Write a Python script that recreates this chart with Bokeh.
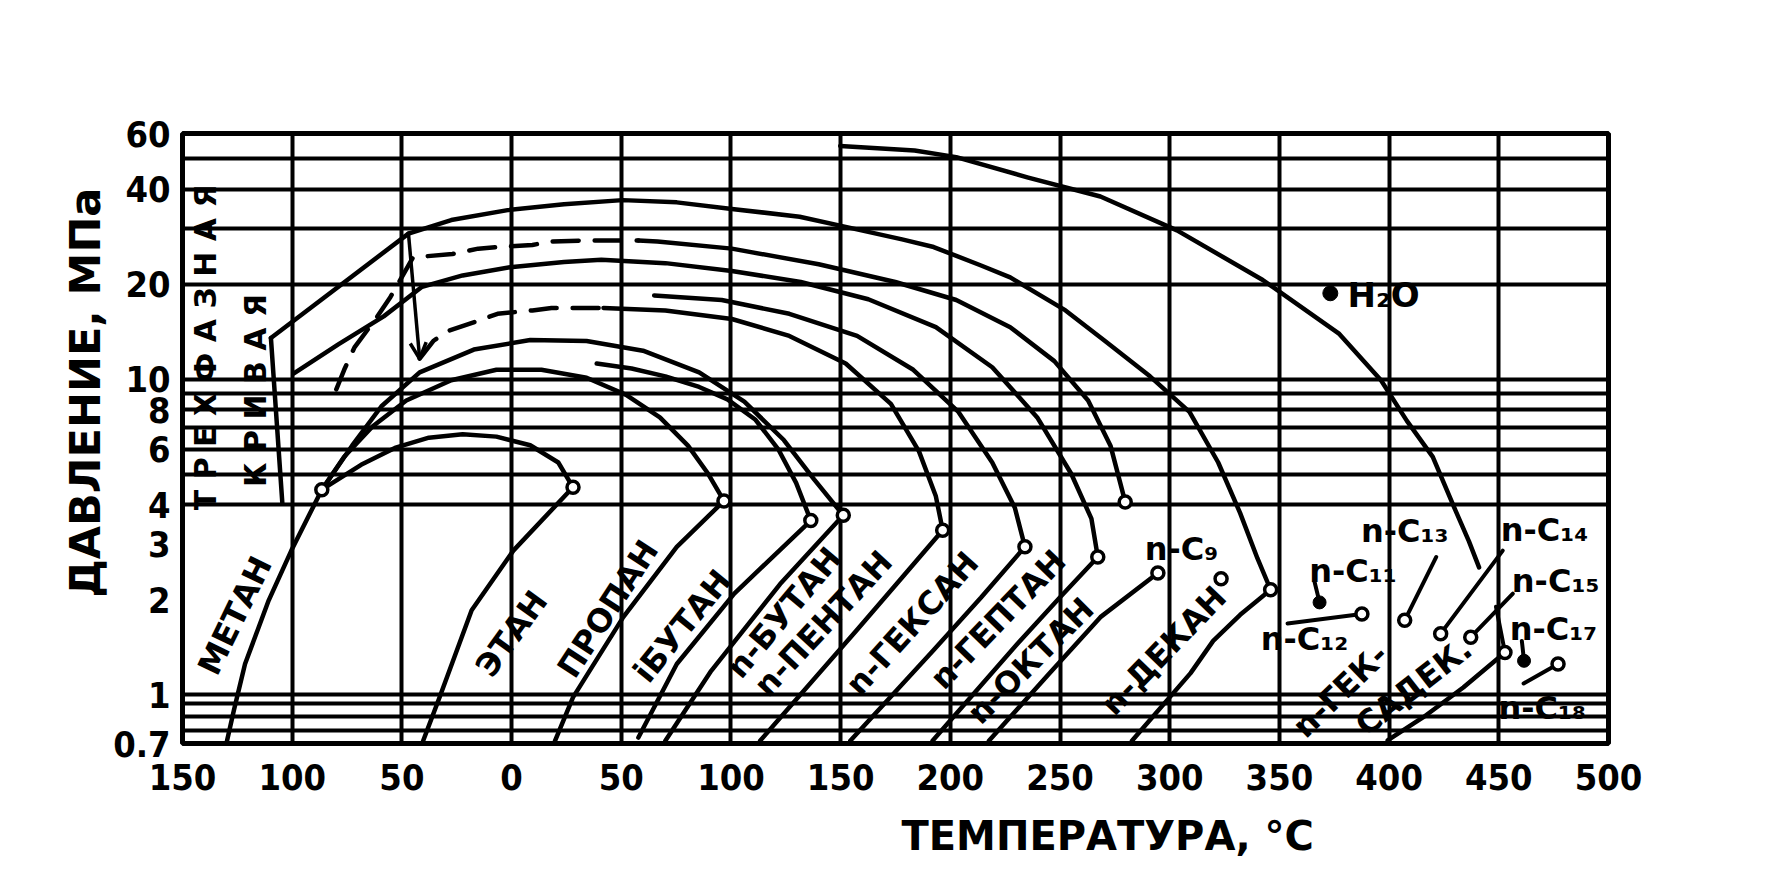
from bokeh.plotting import figure
from bokeh.models import Range1d, FixedTicker, Arrow, OpenHead, Title
from bokeh.core.properties import value
from bokeh.embed import file_html
from bokeh.resources import INLINE

# ---------------- data (temperature °C, pressure MPa) ----------------
X_TICKS = [-150, -100, -50, 0, 50, 100, 150, 200, 250, 300, 350, 400, 450, 500]
X_TICK_LABELS = ["150", "100", "50", "0", "50", "100", "150", "200", "250",
                 "300", "350", "400", "450", "500"]
Y_TICKS = [0.7, 1, 2, 3, 4, 6, 8, 10, 20, 40, 60]
Y_TICK_LABELS = ["0.7", "1", "2", "3", "4", "6", "8", "10", "20", "40", "60"]
X_GRID = [-100, -50, 0, 50, 100, 150, 200, 250, 300, 350, 400, 450]
Y_GRID = [0.77, 0.85, 0.94, 1, 4, 5, 6, 7, 8, 9, 10, 20, 30, 40, 50]

# vapour-pressure curves
methane_t = [-129.7, -126.6, -121.5, -110.7, -100.4, -86.5]
methane_p = [0.714, 0.891, 1.25, 1.99, 2.86, 4.46]
ethane_t = [-40.3, -32.6, -18.2, 0.8, 28.0]
ethane_p = [0.714, 0.99, 1.85, 2.86, 4.54]
propane_t = [19.8, 28.0, 50.9, 75.3, 96.8]
propane_p = [0.714, 0.98, 1.76, 2.94, 4.11]
ibutane_t = [57.8, 75.3, 101.5, 136.4]
ibutane_p = [0.731, 1.25, 2.09, 3.56]
nbutane_t = [70.1, 91.0, 122.4, 151.2]
nbutane_p = [0.714, 1.19, 2.24, 3.70]
npentane_t = [113.3, 157.3, 178.0, 196.5]
npentane_p = [0.714, 1.60, 2.35, 3.32]
nhexane_t = [154.4, 192.2, 214.0, 234.0]
nhexane_p = [0.714, 1.38, 2.03, 2.94]
nheptane_t = [191.9, 230.6, 249.9, 267.2]
nheptane_p = [0.714, 1.45, 2.03, 2.73]
noctane_t = [217.6, 244.8, 268.4, 294.6]
noctane_p = [0.714, 1.16, 1.76, 2.43]
ndecane_t = [282.8, 309.5, 319.8, 332.1, 346.0]
ndecane_p = [0.714, 1.17, 1.48, 1.79, 2.15]
nc16_t = [399.3, 415.6, 433.8, 452.8]
nc16_p = [0.716, 0.848, 1.053, 1.36]

# critical loci (arcs)
arc_ethane_t = [-86.5, -68.6, -53.2, -37.7, -22.3, -6.9, 8.5, 21.3, 28.0]
arc_ethane_p = [4.46, 5.35, 6.05, 6.52, 6.68, 6.57, 6.17, 5.44, 4.54]
arc_propane_t = [-86.5, -76.3, -63.4, -48.0, -27.5, -6.9, 13.6, 34.2, 52.2, 67.6, 80.4, 89.6, 96.8]
arc_propane_p = [4.46, 5.67, 7.07, 8.55, 9.91, 10.7, 10.7, 10.1, 8.91, 7.56, 6.15, 5.01, 4.11]
arc_ibutane_t = [38.8, 54.7, 70.1, 85.5, 98.4, 111.2, 121.5, 129.7, 136.4]
arc_ibutane_p = [11.2, 10.8, 10.2, 9.44, 8.62, 7.43, 6.00, 4.69, 3.56]
arc_nbutane_t = [-86.5, -72.7, -59.3, -41.9, -17.2, 8.5, 34.2, 59.9, 85.5, 106.1, 124.1, 137.9, 151.2]
arc_nbutane_p = [4.46, 6.15, 8.20, 10.5, 12.4, 13.3, 13.2, 12.3, 10.5, 8.48, 6.41, 4.81, 3.70]
arc_npentane_dash_t = [-41.9, -35.7, -29.0, -15.2, -6.4, 9.5, 18.2, 32.1, 41.9]
arc_npentane_dash_p = [11.6, 13.2, 14.2, 15.3, 16.1, 16.5, 16.8, 16.8, 16.8]
arc_npentane_t = [41.9, 70.1, 100.4, 126.6, 152.3, 172.9, 185.7, 193.4, 196.5]
arc_npentane_p = [16.8, 16.5, 15.5, 13.7, 11.2, 8.34, 5.90, 4.25, 3.32]
arc_nhexane_t = [65.0, 95.8, 126.6, 157.5, 183.1, 203.7, 219.1, 229.4, 234.0]
arc_nhexane_p = [18.4, 17.8, 16.1, 13.7, 10.7, 7.87, 5.44, 3.91, 2.94]
arc_nheptane_t = [-99.4, -78.8, -58.3, -40.8, -22.3, -0.7, 23.9, 40.9, 70.1, 100.4, 131.8,
                  162.6, 193.4, 219.1, 239.6, 255.1, 264.3, 267.2]
arc_nheptane_p = [10.4, 12.9, 15.8, 19.6, 21.3, 22.6, 23.5, 23.9, 23.3, 22.0, 20.3,
                  17.9, 14.6, 10.9, 7.56, 5.01, 3.61, 2.73]
arc_noctane_dash_t = [-79.9, -76.3, -71.6, -61.4, -55.2, -44.9, -27.0, -15.2, -6.4, 9.5, 18.2, 34.2, 57.8]
arc_noctane_dash_p = [9.28, 10.7, 12.6, 15.7, 18.2, 24.3, 24.9, 25.9, 26.2, 26.6, 27.3, 27.5, 27.5]
arc_noctane_t = [57.8, 66.5, 100.4, 140.0, 174.9, 202.7, 227.3, 247.4, 262.8, 273.0, 279.7]
arc_noctane_p = [27.5, 27.3, 25.9, 23.1, 20.3, 17.8, 14.6, 11.4, 8.55, 6.15, 4.08]
arc_ndecane_t = [-47.0, -27.5, -1.8, 23.9, 50.6, 75.3, 100.4, 131.3, 152.8, 178.0, 192.4,
                 214.0, 227.3, 252.5, 270.5, 291.0, 309.0, 322.1, 332.1, 340.0, 346.0]
arc_ndecane_p = [28.9, 31.9, 34.3, 35.8, 36.9, 36.3, 34.6, 32.7, 30.3, 27.7, 26.2,
                 22.9, 21.0, 16.5, 13.2, 10.2, 7.87, 5.44, 3.76, 2.70, 2.15]
arc_top_t = [149.8, 183.7, 202.7, 235.5, 268.4, 303.3, 342.4, 377.3, 396.3, 408.1, 419.9, 429.7, 436.4, 441.0]
arc_top_p = [54.8, 53.0, 50.5, 43.5, 37.9, 29.6, 20.6, 13.9, 9.91, 7.37, 5.67, 3.91, 3.06, 2.53]

# three-phase curve and its leader
three_phase_t = [-109.7, -47.0]
three_phase_p = [13.5, 28.9]
leader_t = [-109.7, -104.5]
leader_p = [13.5, 4.05]

# short stubs of heavy n-alkanes
nc11_t = [366.0, 368.3]
nc11_p = [2.28, 1.96]
nc12_t = [353.7, 387.6]
nc12_p = [1.68, 1.80]
nc13_t = [407.1, 421.5]
nc13_p = [1.72, 2.73]
nc14_t = [423.5, 451.8]
nc14_p = [1.56, 2.86]
nc15_t = [437.2, 456.4]
nc15_p = [1.52, 2.09]
nc16_stub_t = [452.8, 448.7]
nc16_stub_p = [1.36, 1.90]
nc17_t = [460.5, 461.5]
nc17_p = [1.48, 1.28]
nc18_t = [461.3, 477.0]
nc18_p = [1.085, 1.25]

# critical points
open_pts_t = [-86.5, 28.0, 96.8, 136.4, 151.2, 196.5, 234.0, 267.2, 294.6, 279.7,
              323.4, 346.0, 387.6, 407.1, 423.5, 437.2, 452.8, 477.0]
open_pts_p = [4.46, 4.54, 4.11, 3.56, 3.70, 3.32, 2.94, 2.73, 2.43, 4.08,
              2.33, 2.15, 1.80, 1.72, 1.56, 1.52, 1.36, 1.25]
solid_pts_t = [368.3, 461.5]
solid_pts_p = [1.96, 1.28]
water_t = [373.2]
water_p = [18.7]

# ---------------- figure ----------------
FONT = "'Liberation Sans Narrow', 'DejaVu Sans Condensed', 'Liberation Sans', sans-serif"
FONT2 = "'DejaVu Sans', sans-serif"

p = figure(width=1751, height=883, output_backend="svg", toolbar_location=None,
           y_axis_type="log", x_range=Range1d(-150, 500), y_range=Range1d(0.7, 60),
           min_border_left=182, min_border_right=143, min_border_top=133,
           min_border_bottom=140)
p.background_fill_color = "white"
p.border_fill_color = "white"
p.outline_line_color = "black"
p.outline_line_width = 5

p.xaxis.ticker = FixedTicker(ticks=X_TICKS)
p.xaxis.major_label_overrides = {t: l for t, l in zip(X_TICKS, X_TICK_LABELS)}
p.yaxis.ticker = FixedTicker(ticks=Y_TICKS)
p.yaxis.major_label_overrides = {t: l for t, l in zip(Y_TICKS, Y_TICK_LABELS)}
for ax in (p.xaxis, p.yaxis):
    ax.axis_line_color = None
    ax.major_tick_line_color = None
    ax.minor_tick_line_color = None
    ax.major_label_text_font = FONT
    ax.major_label_text_font_style = "bold"
    ax.major_label_text_font_size = "36px"
    ax.major_label_text_color = "black"
p.xaxis.major_label_standoff = 14
p.yaxis.major_label_standoff = 6

p.xgrid.ticker = FixedTicker(ticks=X_GRID)
p.ygrid.ticker = FixedTicker(ticks=Y_GRID)
for g in (p.xgrid, p.ygrid):
    g.grid_line_color = "black"
    g.grid_line_width = 4
    g.grid_line_alpha = 1.0

LW = 4.5
solid_curves = [
    (methane_t, methane_p), (ethane_t, ethane_p), (propane_t, propane_p),
    (ibutane_t, ibutane_p), (nbutane_t, nbutane_p), (npentane_t, npentane_p),
    (nhexane_t, nhexane_p), (nheptane_t, nheptane_p), (noctane_t, noctane_p),
    (ndecane_t, ndecane_p), (nc16_t, nc16_p),
    (arc_ethane_t, arc_ethane_p), (arc_propane_t, arc_propane_p),
    (arc_ibutane_t, arc_ibutane_p), (arc_nbutane_t, arc_nbutane_p),
    (arc_npentane_t, arc_npentane_p), (arc_nhexane_t, arc_nhexane_p),
    (arc_nheptane_t, arc_nheptane_p), (arc_noctane_t, arc_noctane_p),
    (arc_ndecane_t, arc_ndecane_p), (arc_top_t, arc_top_p),
    (three_phase_t, three_phase_p), (leader_t, leader_p),
]
for xs, ys in solid_curves:
    p.line(xs, ys, line_color="black", line_width=LW, line_join="round", line_cap="round")

for xs, ys in [(arc_npentane_dash_t, arc_npentane_dash_p), (arc_noctane_dash_t, arc_noctane_dash_p)]:
    p.line(xs, ys, line_color="black", line_width=LW, line_dash="26 16", line_cap="round")

for xs, ys in [(nc11_t, nc11_p), (nc12_t, nc12_p), (nc13_t, nc13_p), (nc14_t, nc14_p),
               (nc15_t, nc15_p), (nc16_stub_t, nc16_stub_p), (nc17_t, nc17_p), (nc18_t, nc18_p)]:
    p.line(xs, ys, line_color="black", line_width=4, line_cap="round")

p.add_layout(Arrow(end=OpenHead(size=16, line_width=3.5, line_color="black"),
                   x_start=arc_ndecane_t[0], y_start=arc_ndecane_p[0],
                   x_end=arc_npentane_dash_t[0], y_end=arc_npentane_dash_p[0],
                   line_width=3.5, line_color="black"))

p.scatter(open_pts_t, open_pts_p, marker="circle", size=12, fill_color="white",
          line_color="black", line_width=3.5)
p.scatter(solid_pts_t, solid_pts_p, marker="circle", size=13, fill_color="black",
          line_color="black")
p.scatter(water_t, water_p, marker="circle", size=15, fill_color="black", line_color="black")

# ---------------- annotation text ----------------
rot_labels = ["МЕТАН", "ЭТАН", "ПРОПАН", "iБУТАН", "n-БУТАН", "n-ПЕНТАН", "n-ГЕКСАН",
              "n-ГЕПТАН", "n-ОКТАН", "n-ДЕКАН", "n-ГЕК-", "САДЕК."]
rot_x = [-126.1, 0.0, 43.9, 77.8, 124.1, 142.1, 182.6, 221.7, 236.6, 297.2, 377.8, 411.2]
rot_y = [1.78, 1.56, 1.87, 1.65, 1.82, 1.68, 1.68, 1.73, 1.28, 1.38, 1.03, 1.06]
rot_ang = [64, 54, 57, 51, 50, 47, 48, 46, 45, 46, 44, 38]
p.text(rot_x, rot_y, text=rot_labels, angle=rot_ang, angle_units="deg",
       text_font=value(FONT2), text_font_style="bold", text_font_size="32px",
       text_align="center", text_baseline="middle", text_color="black")

hc_labels = ["n-C₉", "n-C₁₁", "n-C₁₂", "n-C₁₃", "n-C₁₄", "n-C₁₅", "n-C₁₇", "n-C₁₈"]
hc_x = [305.4, 383.5, 361.4, 407.1, 470.8, 475.9, 474.9, 469.8]
hc_y = [2.89, 2.47, 1.50, 3.29, 3.32, 2.29, 1.61, 0.906]
p.text(hc_x, hc_y, text=hc_labels, text_font=value(FONT2), text_font_style="bold",
       text_font_size="32px", text_align="center", text_baseline="middle", text_color="black")

p.text([381.0], [18.4], text=["H₂O"], text_font=value(FONT2), text_font_style="bold",
       text_font_size="34px", text_align="left", text_baseline="middle", text_color="black")

p.text([-139.4, -116.9], [12.6, 9.2], text=["Т Р Е Х Ф А З Н А Я", "К Р И В А Я"],
       angle=[90, 90], angle_units="deg", text_font=value(FONT2), text_font_style="bold",
       text_font_size="30px", text_align="center", text_baseline="middle", text_color="black")

p.add_layout(Title(text="ДАВЛЕНИЕ, МПа", align="left", offset=146, standoff=1,
                   text_font=FONT2, text_font_style="bold", text_font_size="43px",
                   text_color="black"), "left")
p.add_layout(Title(text="ТЕМПЕРАТУРА, °С", align="left", offset=719, standoff=36,
                   text_font=FONT2, text_font_style="bold", text_font_size="40px",
                   text_color="black"), "below")

open("out.html", "w").write(file_html(p, INLINE))
